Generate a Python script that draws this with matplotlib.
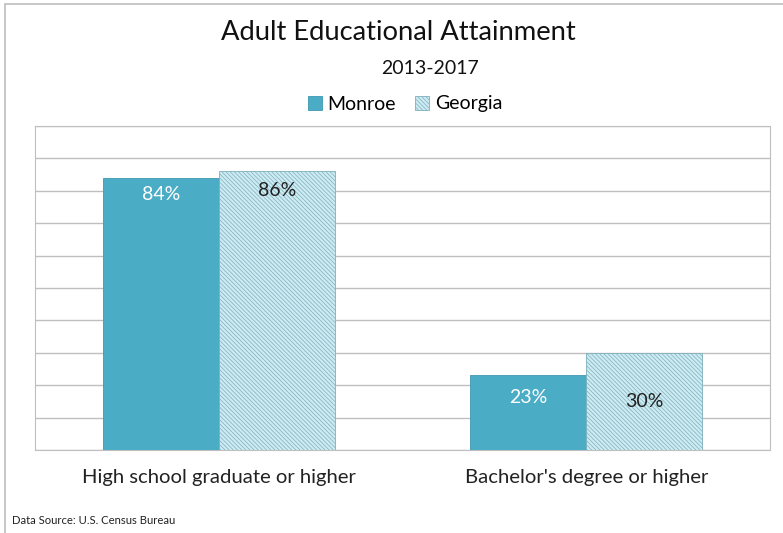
import matplotlib.pyplot as plt
from matplotlib.patches import Rectangle
import numpy as np

categories = ["High school graduate or higher", "Bachelor's degree or higher"]
series = ["Monroe", "Georgia"]
monroe = [84, 23]
georgia = [86, 30]

plt.rcParams['font.family'] = ['Lato', 'DejaVu Sans']
plt.rcParams['hatch.linewidth'] = 0.5
plt.rcParams['hatch.color'] = "#6FB3C4"

fig = plt.figure(figsize=(7.83, 5.33), dpi=100)
# outer chart frame
fig.patches.append(Rectangle((5 / 783, -0.1), 1.2, 1 - 4 / 533 + 0.1, transform=fig.transFigure,
                             fill=False, edgecolor="#BDBDBD", lw=1.2))

ax = fig.add_axes([35 / 783, 83 / 533, 735 / 783, 324 / 533])
x = np.arange(len(categories))
w = 0.315

b1 = ax.bar(x - w / 2, monroe, w, color="#4BACC6", edgecolor="#3E98B0", lw=0.6, zorder=3, label=series[0])
b2 = ax.bar(x + w / 2, georgia, w, color="#CDEBF2", edgecolor="#7FAFBC", hatch="\\" * 8,
            lw=0.6, zorder=3, label=series[1])

ax.set_xlim(-0.5, 1.5)
ax.set_ylim(0, 100)
ax.set_yticks(np.arange(0, 101, 10))
ax.set_yticklabels([])
ax.tick_params(length=0)
ax.set_xticks(x)
ax.set_xticklabels(categories, fontsize=14.6, color="#222222")
ax.tick_params(axis="x", pad=14)
ax.grid(axis="y", color="#BFBFBF", lw=1, zorder=0)
for s in ax.spines.values():
    s.set_color("#BFBFBF")

# data labels
m_off = [-17, -22]
for i, v in enumerate(monroe):
    ax.annotate(f"{v}%", (x[i] - w / 2, v), xytext=(0, m_off[i]), textcoords="offset pixels",
                ha="center", va="center", fontsize=14, color="white", zorder=5)
for i, v in enumerate(georgia):
    if v > 50:
        ax.annotate(f"{v}%", (x[i] + w / 2, v), xytext=(0, -19), textcoords="offset pixels",
                    ha="center", va="center", fontsize=14, color="#222222", zorder=5)
    else:
        ax.text(x[i] + w / 2, v / 2, f"{v}%", ha="center", va="center", fontsize=14,
                color="#222222", zorder=5)

fig.text(398 / 783, 1 - 33 / 533, "Adult Educational Attainment", ha="center", va="center",
         fontsize=19.7, color="#111111")
fig.text(430 / 783, 1 - 68 / 533, "2013-2017", ha="center", va="center", fontsize=14, color="#111111")
fig.legend(handles=[b1, b2], loc="center", bbox_to_anchor=(405 / 783, 1 - 104 / 533), ncol=2,
           frameon=False, fontsize=14, handlelength=0.7, handleheight=0.7, handletextpad=0.3,
           columnspacing=1.0)
fig.text(12 / 783, 1 - 520 / 533, "Data Source: U.S. Census Bureau", ha="left", va="center",
         fontsize=8.1, color="#222222")

fig.savefig("out.png", dpi=100)
